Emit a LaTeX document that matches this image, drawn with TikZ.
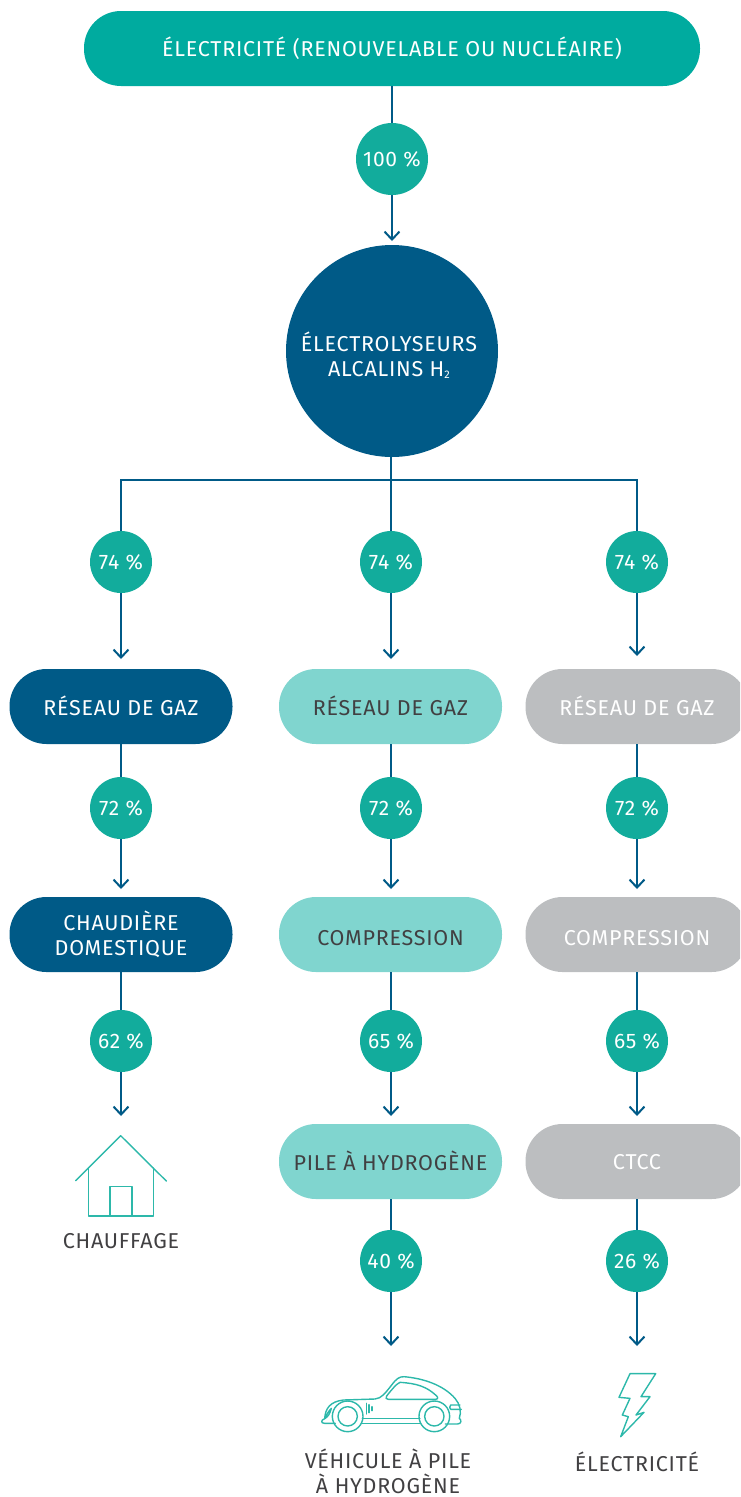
\documentclass[tikz,border=0pt]{standalone}
\usepackage{fontspec}
\setmainfont{Fira Sans}[LetterSpace=3.5]
\usetikzlibrary{arrows.meta}
\definecolor{tealmain}{HTML}{00AB9F}
\definecolor{pctteal}{HTML}{12AC9C}
\definecolor{navy}{HTML}{005A87}
\definecolor{lightteal}{HTML}{80D5CF}
\definecolor{greypill}{HTML}{BCBEC0}
\definecolor{darktext}{HTML}{414042}
\definecolor{icon}{HTML}{2DB8AA}
\tikzset{
 pill/.style={rectangle,rounded corners=37pt,minimum width=223pt,minimum height=75pt,align=center,inner sep=0pt,font=\fontsize{21.5}{25}\selectfont},
 pct/.style={circle,fill=pctteal,text=white,minimum size=62pt,inner sep=0pt,font=\fontsize{21}{22}\selectfont},
 pctbig/.style={pct,minimum size=72pt},
 navyfill/.style={pill,fill=navy,text=white},
 lightfill/.style={pill,fill=lightteal,text=darktext},
 greyfill/.style={pill,fill=greypill,text=white},
 conn/.style={draw=navy,line width=1.8pt},
 arr/.style={conn,-{Straight Barb[length=8pt,width=15pt,line width=2pt]}},
 iconline/.style={draw=icon,line width=1.4pt,line join=round,line cap=round},
 caption/.style={text=darktext,align=center,font=\fontsize{21.5}{25}\selectfont},
 comptext/.style={text height=21pt,text depth=0pt},
 ctcctext/.style={text height=15pt,text depth=0pt},
 accenttext/.style={text height=19pt,text depth=1pt},
}
\begin{document}
\begin{tikzpicture}[x=1pt,y=-1pt]
\useasboundingbox (0,0) rectangle (740,1497);
\clip (0,0) rectangle (740,1497);
% coordinates
\coordinate (tip0) at (392,241);
\coordinate (bus) at (391,480);
\coordinate (busL) at (121,480);
\coordinate (busR) at (637,480);
\coordinate (tipA1) at (121,659);\coordinate (tipB1) at (391,659);\coordinate (tipC1) at (637,656);
\coordinate (tipA2) at (121,889);\coordinate (tipB2) at (391,889);\coordinate (tipC2) at (637,889);
\coordinate (tipA3) at (121,1116);\coordinate (tipB3) at (391,1116);\coordinate (tipC3) at (637,1116);
\coordinate (tipB4) at (391,1346);\coordinate (tipC4) at (637,1346);
% nodes
\node[pill,minimum width=616pt,fill=tealmain,text=white] (elec) at (392,48.5) {ÉLECTRICITÉ (RENOUVELABLE OU NUCLÉAIRE)};
\node[circle,fill=navy,minimum size=212pt,inner sep=0pt] (alk) at (392,351) {};
\node[text=white,align=center,inner sep=0pt,font=\fontsize{21.5}{25}\selectfont] (alkt) at (389,355) {ÉLECTROLYSEURS\\ALCALINS H\raisebox{-2pt}{\fontsize{11}{11}\selectfont 2}};
\node[pctbig] (p0) at (392,159) {100 \%};
\foreach \n/\x/\y/\t in {a1/121/562/74,b1/391/562/74,c1/637/562/74,a2/121/808/72,b2/391/808/72,c2/637/808/72,a3/121/1041/62,b3/391/1041/65,c3/637/1041/65,b4/391/1261/40,c4/637/1261/26}
  \node[pct] (p\n) at (\x,\y) {\t\ \%};
\node[navyfill,accenttext] (A1) at (121,706.5) {RÉSEAU DE GAZ};
\node[navyfill] (A2) at (121,934.5) {CHAUDIÈRE\\DOMESTIQUE};
\node[lightfill,accenttext] (B1) at (390.5,706.5) {RÉSEAU DE GAZ};
\node[lightfill,comptext] (B2) at (390.5,934.5) {COMPRESSION};
\node[lightfill,accenttext] (B3) at (390.5,1161.5) {PILE À HYDROGÈNE};
\node[greyfill,accenttext] (C1) at (637,706.5) {RÉSEAU DE GAZ};
\node[greyfill,comptext] (C2) at (637,934.5) {COMPRESSION};
\node[greyfill,ctcctext] (C3) at (637,1161.5) {CTCC};
\node[caption] (capA) at (121,1241) {CHAUFFAGE};
\node[caption] (capB) at (388,1471.5) {VÉHICULE À PILE\\À HYDROGÈNE};
\node[caption] (capC) at (637,1462) {ÉLECTRICITÉ};
% connectors
\draw[conn] (elec) -- (p0);
\draw[arr] (p0) -- (tip0);
\draw[conn] (bus |- alk.south) -- (pb1);
\draw[conn] (pa1) -- (busL) -- (busR) -- (pc1);
\draw[arr] (pa1) -- (tipA1);\draw[arr] (pb1) -- (tipB1);\draw[arr] (pc1) -- (tipC1);
\draw[conn] (A1) -- (pa2);\draw[conn] (bus |- B1.south) -- (pb2);\draw[conn] (C1) -- (pc2);
\draw[arr] (pa2) -- (tipA2);\draw[arr] (pb2) -- (tipB2);\draw[arr] (pc2) -- (tipC2);
\draw[conn] (A2) -- (pa3);\draw[conn] (bus |- B2.south) -- (pb3);\draw[conn] (C2) -- (pc3);
\draw[arr] (pa3) -- (tipA3);\draw[arr] (pb3) -- (tipB3);\draw[arr] (pc3) -- (tipC3);
\draw[conn] (bus |- B3.south) -- (pb4);\draw[conn] (C3) -- (pc4);
\draw[arr] (pb4) -- (tipB4);\draw[arr] (pc4) -- (tipC4);
% house
\draw[iconline] (75.7,1180.7) -- (120.7,1135.7) -- (166.3,1181);
\draw[iconline] (88.7,1168) -- (88.7,1216) -- (153.3,1216) -- (153.3,1168);
\draw[iconline] (110,1216) -- (110,1186.7) -- (132,1186.7) -- (132,1216);
% car (coordinates of a 3x crop)
\begin{scope}[shift={(280,1340)},scale=1/3]
\draw[iconline] (166,250) -- (134,250) .. controls (122,250) and (122,240) .. (134,236) .. controls (136,205) and (150,185) .. (190,180) -- (285,177) .. controls (305,175) and (315,160) .. (335,135) .. controls (350,115) and (358,110) .. (372,110) .. controls (430,115) and (490,135) .. (525,175) .. controls (540,192) and (545,215) .. (538,235) .. controls (545,240) and (545,252) .. (532,252) -- (496,252);
\draw[iconline] (512,195) -- (540,195) (512,208) -- (544,208) (512,195) .. controls (508,200) and (508,205) .. (512,208);
\draw[iconline] (325,178) -- (465,178) .. controls (475,178) and (475,172) .. (468,166) .. controls (440,140) and (410,130) .. (360,127) .. controls (350,130) and (330,155) .. (320,168) .. controls (316,174) and (318,178) .. (325,178);
\draw[iconline] (247,235) -- (420,235) (247,250) -- (420,250);
\draw[iconline] (203,229) circle (46) (203,229) circle (29);
\draw[iconline] (463,229) circle (46) (463,229) circle (29);
\draw[iconline] (259,190) -- (259,222) (267,194) -- (267,218) (276,200) -- (276,212);
\draw[iconline] (134,236) .. controls (138,225) and (145,215) .. (154,205) .. controls (150,220) and (145,230) .. (134,236);
\end{scope}
% bolt
\begin{scope}[shift={(605,1365)},scale=1/3]
\draw[iconline] (75,26) -- (152,26) -- (108,95) -- (135,95) -- (93,150) -- (117,142) -- (47,215) -- (70,155) -- (52,150) -- (75,100) -- (42,97) -- cycle;
\end{scope}
\end{tikzpicture}
\end{document}
